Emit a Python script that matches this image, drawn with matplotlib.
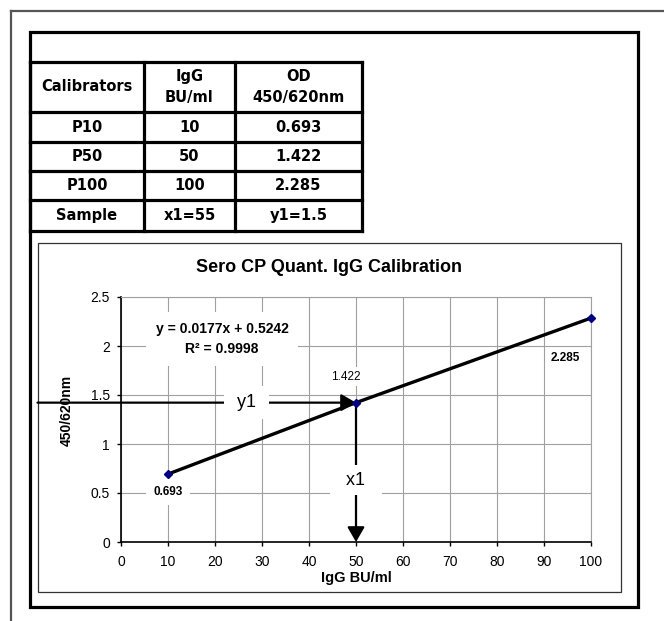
import numpy as np
import matplotlib.pyplot as plt
from matplotlib import transforms
from matplotlib.patches import Rectangle
from matplotlib.ticker import FormatStrFormatter

plt.rcParams['font.family'] = ['Liberation Sans', 'DejaVu Sans']

# calibration sheet
calibrators = ["P10", "P50", "P100", "Sample"]
igg_bu = [10, 50, 100]
od_450_620 = [0.693, 1.422, 2.285]
sample_x1 = 55
sample_y1 = 1.5
header = ["Calibrators", "IgG\nBU/ml", "OD\n450/620nm"]

# excel trendline
slope = 0.0177
intercept = 0.5242
r_squared = 0.9998

W, H = 664, 621
fig = plt.figure(figsize=(W / 100, H / 100), dpi=100)

# background layer in pixel coords: frames + table
bg = fig.add_axes([0, 0, 1, 1])
bg.set_xlim(0, W)
bg.set_ylim(H, 0)
bg.axis('off')
bg.set_zorder(0)

bg.plot([10.5, W], [10.5, 10.5], color='#555555', lw=1.6)
bg.plot([10.5, 10.5], [10.5, H], color='#555555', lw=1.6)
bg.add_patch(Rectangle((29.5, 31.5), 608, 575, fill=False, ec='black', lw=2.3))

col_edges = [30, 144, 235, 362]
row_edges = [61.5, 112, 142, 171, 200, 231]
for y in row_edges:
    bg.plot([col_edges[0], col_edges[-1]], [y, y], color='k', lw=2.3,
            solid_capstyle='projecting')
for x in col_edges:
    bg.plot([x, x], [row_edges[0], row_edges[-1]], color='k', lw=2.3,
            solid_capstyle='projecting')

rows = [header]
for name, x, od in zip(calibrators, igg_bu, od_450_620):
    rows.append([name, str(x), f"{od:.3f}"])
rows.append([calibrators[-1], f"x1={sample_x1}", f"y1={sample_y1}"])

for i, row in enumerate(rows):
    yc = (row_edges[i] + row_edges[i + 1]) / 2
    for j, txt in enumerate(row):
        xc = (col_edges[j] + col_edges[j + 1]) / 2
        bg.text(xc, yc, txt, ha='center', va='center', fontsize=10.5,
                fontweight='bold', family='DejaVu Sans', linespacing=1.5)

# chart area frame
bg.add_patch(Rectangle((37.5, 242.5), 583, 349.5, fill=False, ec='#333333', lw=0.9))
fig.text(329 / W, 1 - 268 / H, "Sero CP Quant. IgG Calibration",
         ha='center', va='center', fontsize=13, fontweight='bold')

# plot area
ax = fig.add_axes([121 / W, 1 - 542 / H, 470 / W, 245 / H])
ax.set_zorder(1)
ax.set_xlim(0, 100)
ax.set_ylim(0, 2.5)
ax.set_xticks(np.arange(0, 101, 10))
ax.set_yticks(np.arange(0, 2.51, 0.5))
ax.yaxis.set_major_formatter(FormatStrFormatter('%g'))
ax.set_axisbelow(True)
ax.grid(True, color='#a0a0a0', lw=0.8)
for s in ['top', 'right']:
    ax.spines[s].set_color('#a0a0a0')
    ax.spines[s].set_linewidth(0.8)
for s in ['left', 'bottom']:
    ax.spines[s].set_linewidth(1.2)
ax.tick_params(direction='out', length=3, width=1, labelsize=10)
ax.tick_params(axis='x', pad=6)
ax.tick_params(axis='y', pad=5)

ax.set_xlabel("IgG BU/ml", fontsize=10.5, fontweight='bold')
ax.xaxis.set_label_coords(0.5, (542 - 571) / 245)
ax.set_ylabel("450/620nm", fontsize=10, fontweight='bold')
ax.yaxis.set_label_coords((74 - 121) / 470, (542 - 410) / 245)

ax.plot(igg_bu, od_450_620, color='black', lw=2.4, zorder=3,
        solid_capstyle='butt')
ax.plot(igg_bu, od_450_620, linestyle='none', marker='D', ms=4.5,
        color='#000080', zorder=7, clip_on=False)

# point labels
lab = dict(textcoords='offset pixels', ha='center', va='center', zorder=6)
ax.annotate(f"{od_450_620[0]:.3f}", (igg_bu[0], od_450_620[0]), xytext=(0, -18),
            fontsize=8.5, fontweight='bold',
            bbox=dict(boxstyle='square,pad=0.6', fc='white', ec='none'), **lab)
ax.annotate(f"{od_450_620[1]:.3f}", (igg_bu[1], od_450_620[1]), xytext=(-10, 26),
            fontsize=8.5, bbox=dict(boxstyle='square,pad=0.3', fc='white', ec='none'),
            **lab)
ax.annotate(f"{od_450_620[2]:.3f}", (igg_bu[2], od_450_620[2]), xytext=(-26, -40),
            fontsize=8.5, fontweight='bold', **lab)

ax.text(21.5, 2.07, f"y = {slope}x + {intercept}\nR² = {r_squared}",
        ha='center', va='center', fontsize=10, fontweight='bold',
        linespacing=1.55, zorder=6,
        bbox=dict(boxstyle='square,pad=0.7', fc='white', ec='none'))

# reading arrows
arr = dict(arrowstyle="-|>,head_length=0.45,head_width=0.26", color='k',
           lw=1.6, shrinkA=0, shrinkB=0, mutation_scale=20)
blend = transforms.blended_transform_factory(bg.transData, ax.transData)
ax.annotate("", xy=(igg_bu[1], od_450_620[1]), xytext=(37.5, od_450_620[1]),
            textcoords=blend, arrowprops=arr, annotation_clip=False, zorder=5)
ax.annotate("", xy=(igg_bu[1], 0), xytext=(igg_bu[1], od_450_620[1]),
            arrowprops=arr, annotation_clip=False, zorder=5)
ax.text(26.7, od_450_620[1], " y1 ", ha='center', va='center', fontsize=13,
        zorder=6, bbox=dict(boxstyle='square,pad=0.45', fc='white', ec='none'))
ax.text(igg_bu[1], 0.63, "  x1  ", ha='center', va='center', fontsize=13,
        zorder=6, bbox=dict(boxstyle='square,pad=0.35', fc='white', ec='none'))

fig.savefig("out.png", dpi=100)
